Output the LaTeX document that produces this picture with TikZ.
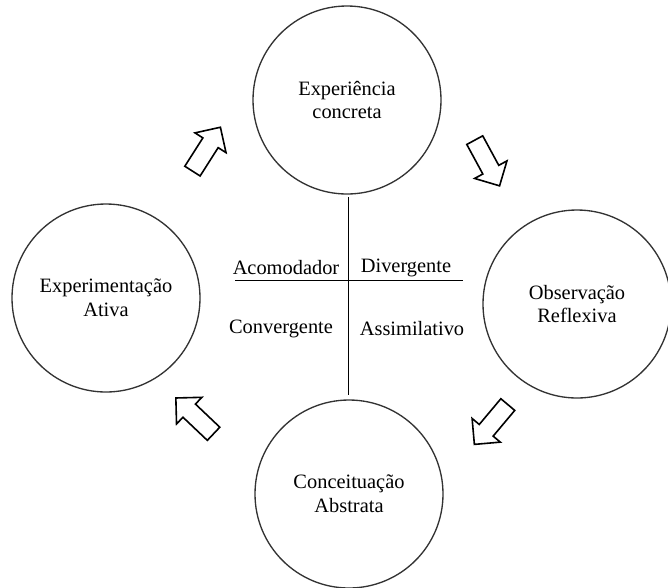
\documentclass[tikz,border=0pt]{standalone}
\usepackage{fontspec}
\setmainfont{Liberation Serif}
\usepackage{tikz}
\usetikzlibrary{positioning,shapes.arrows}

\tikzset{
    stage/.style={circle, draw=black!80, line width=1pt, align=center, minimum size=141pt, inner sep=0pt},
    blockarrow/.style={single arrow, draw=black, line width=1.2pt, fill=white, minimum height=39pt,
        inner sep=6.2pt, single arrow head extend=7pt, single arrow head indent=0pt},
    quadrant/.style={inner sep=1pt}
}

\begin{document}
\begin{tikzpicture}[x=0.75pt, y=-0.75pt, every node/.style={font=\fontsize{15.3}{17.8}\selectfont}]
    \useasboundingbox (0,0) rectangle (668,587);

    % Four stages of the cycle
    \node[stage] (concreta) at (347,100) {Experiência\\concreta};
    \node[stage] (reflexiva) at (577,304) {Observação\\Reflexiva};
    \node[stage] (abstrata) at (349,494) {Conceituação\\Abstrata};
    \node[stage] (ativa) at (106,298) {Experimentação\\Ativa};

    % Hollow arrows between the stages
    \node[blockarrow, rotate=57.5] (a1) at (204,153) {};
    \node[blockarrow, rotate=-61.5] (a2) at (485,159) {};
    \node[blockarrow, rotate=-130] (a3) at (494,421) {};
    \node[blockarrow, rotate=136.5] (a4) at (198,419) {};

    % Axes of the quadrants
    \coordinate (vtop) at (348,197);
    \coordinate (vbot) at (348,395);
    \coordinate (hleft) at (235,280);
    \coordinate (hright) at (463,280);
    \draw[line width=0.6pt] (vtop) -- (vbot);
    \draw[line width=0.6pt] (hleft) -- (hright);

    % Learning styles
    \node[quadrant] (acomodador) at (286,268) {Acomodador};
    \node[quadrant] (divergente) at (406,268) {Divergente};
    \node[quadrant] (convergente) at (281,329) {Convergente};
    \node[quadrant] (assimilativo) at (412,329) {Assimilativo};
\end{tikzpicture}
\end{document}
